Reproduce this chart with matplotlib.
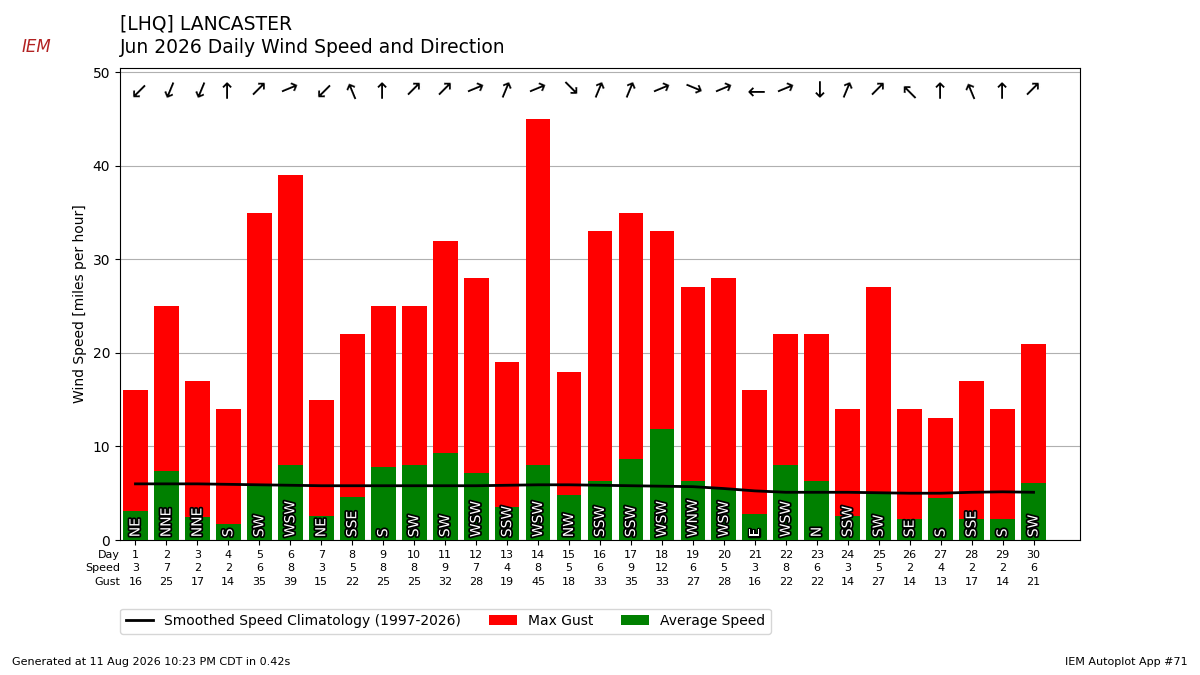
import matplotlib
matplotlib.use("Agg")
import matplotlib.pyplot as plt
import matplotlib.patheffects as pe
import numpy as np

days = list(range(1, 31))
gust = [16,25,17,14,35,39,15,22,25,25,32,28,19,45,18,33,35,33,27,28,16,22,22,14,27,14,13,17,14,21]
avg = [3.1,7.4,2.5,1.7,5.8,8.0,2.6,4.6,7.8,8.0,9.3,7.2,3.5,8.0,4.8,6.3,8.7,11.9,6.3,5.4,2.8,8.0,6.3,2.6,5.1,2.2,4.5,2.2,2.2,6.1]
dirs = ["NE","NNE","NNE","S","SW","WSW","NE","SSE","S","SW","SW","WSW","SSW","WSW","NW",
        "SSW","SSW","WSW","WNW","WSW","E","WSW","N","SSW","SW","SE","S","SSE","S","SW"]
clim = [6.0,6.0,6.0,5.95,5.9,5.85,5.8,5.8,5.8,5.8,5.8,5.8,5.85,5.9,5.9,5.85,5.8,5.75,5.7,5.5,
        5.25,5.1,5.1,5.1,5.05,5.0,5.0,5.1,5.15,5.1]

compass = ["N","NNE","NE","ENE","E","ESE","SE","SSE","S","SSW","SW","WSW","W","WNW","NW","NNW"]

fig = plt.figure(figsize=(12, 6.75), dpi=100)
ax = fig.add_axes([0.1, 0.2, 0.8, 0.7])
ax.bar(days, gust, color="red", label="Max Gust", zorder=2)
ax.bar(days, avg, color="green", label="Average Speed", zorder=3)
ax.plot(days, clim, color="black", lw=2, label="Smoothed Speed Climatology (1997-2026)", zorder=4)
ax.set_xlim(0.5, 31.5)
ax.set_ylim(0, 50.5)
ax.set_yticks([0, 10, 20, 30, 40, 50])
ax.yaxis.grid(True, zorder=0)
ax.set_axisbelow(True)
ax.set_xticks(days)
ax.set_xticklabels([])
ax.set_ylabel("Wind Speed [miles per hour]")

for d, a, g, dr in zip(days, avg, gust, dirs):
    ax.text(d, 0.3, dr, rotation=90, ha="center", va="bottom", color="white", fontsize=10, zorder=5,
            path_effects=[pe.withStroke(linewidth=2.5, foreground="black")])
    deg = compass.index(dr) * 22.5
    to = (deg + 180) % 360
    ang = 90 - to
    ax.text(d, 48.2, "\u2192", rotation=ang, rotation_mode="anchor", ha="center", va="center",
            fontsize=16, zorder=5)
    for yy, val in ((-0.032, d), (-0.06, int(round(a))), (-0.088, g)):
        ax.text(d, yy, str(val), transform=ax.get_xaxis_transform(), ha="center", va="center", fontsize=8)

for yy, lab in ((-0.032, "Day"), (-0.06, "Speed"), (-0.088, "Gust")):
    ax.text(0.0, yy, lab, transform=ax.transAxes, ha="right", va="center", fontsize=8)

h, l = ax.get_legend_handles_labels()
ax.legend(h, l, loc="upper left", bbox_to_anchor=(0.0, -0.145), borderaxespad=0, ncol=3, fontsize=10)

fig.text(0.1, 0.965, "[LHQ] LANCASTER", fontsize=13.5, va="center")
fig.text(0.1, 0.93, "Jun 2026 Daily Wind Speed and Direction", fontsize=13.5, va="center")
fig.text(0.01, 0.015, "Generated at 11 Aug 2026 10:23 PM CDT in 0.42s", fontsize=8)
fig.text(0.99, 0.015, "IEM Autoplot App #71", fontsize=8, ha="right")
fig.text(0.018, 0.93, "IEM", fontsize=12, color="#b22222", style="italic", va="center")

fig.savefig("out.png")
